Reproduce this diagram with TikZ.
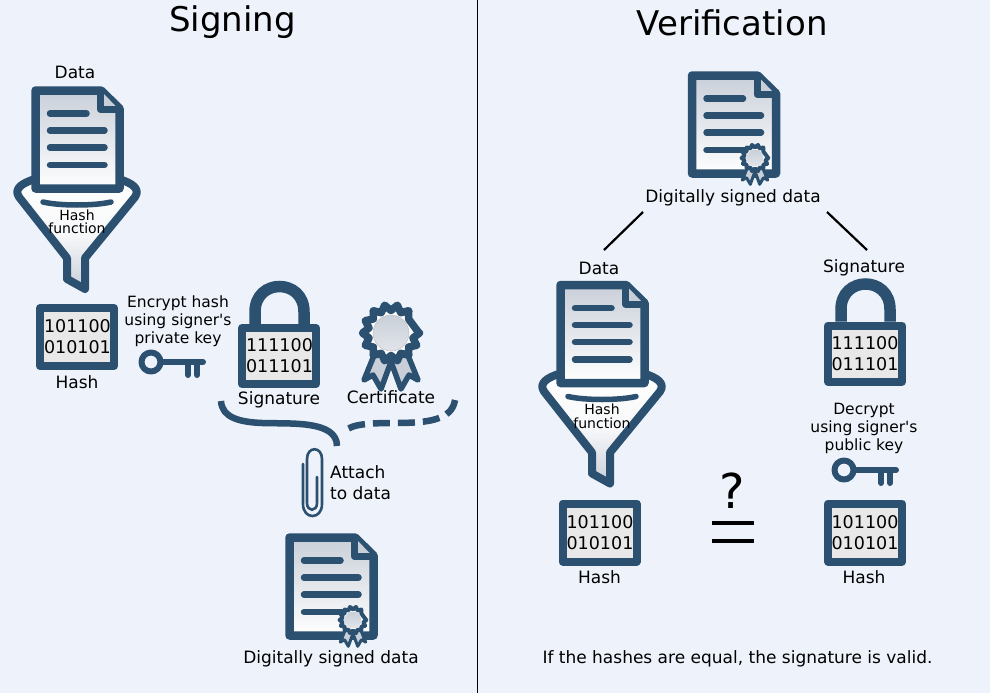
\documentclass[tikz,border=0pt]{standalone}
\usepackage{fontspec}
\setmainfont{DejaVu Sans}
\newfontfamily\plainf{DejaVu Sans}
\definecolor{bg}{HTML}{EEF3FB}
\definecolor{navy}{HTML}{2C5070}
\definecolor{sh}{HTML}{C9CFD9}
\definecolor{boxf}{HTML}{E8E8E8}
\tikzset{
  ink/.style={draw=navy,line width=#1,line join=round,line cap=round},
  ink/.default=7pt,
  lab/.style={font=\fontsize{17}{21}\selectfont,align=center,inner sep=0pt,text=black},
  tight/.style={font=\plainf\fontsize{15.5}{18}\selectfont,align=center,inner sep=0pt,text=black},
  small/.style={font=\fontsize{14}{13.5}\selectfont,align=center,inner sep=0pt,text=black},
  digits/.style={font=\fontsize{17.5}{21}\selectfont,align=center,inner sep=0pt,text=black},
  title/.style={font=\fontsize{34}{36}\selectfont,inner sep=0pt,text=black},
  docicon/.pic={
    \path[ink=8.5pt,top color=sh,bottom color=white] (4,4) -- (69.5,4) -- (88,22) -- (88,102) -- (4,102) -- cycle;
    \path[ink=7pt,fill=sh] (69,4) -- (69,23) -- (87.5,23);
    \draw[ink=6.5pt] (18.5,27) -- (55,27) (18.5,44) -- (73,44) (18.5,61) -- (73,61) (18.5,78.5) -- (73,78.5);
  },
  rosette/.pic={
    \path[ink=5.5pt,fill=sh] (-16,20) -- (-27,47) -- (-18,42) -- (-10,56) -- (1,26) -- cycle;
    \path[ink=5.5pt,fill=sh] (16,20) -- (27,47) -- (18,42) -- (10,56) -- (-1,26) -- cycle;
    \path[ink=7.5pt,fill=white] (0:28)
      \foreach \a in {0,25.714,...,334} { -- (\a:28.5) -- (\a+12.857:22.5) } -- cycle;
    \path[draw=black!25,line width=.5pt,top color=sh,bottom color=sh!55!white] (0,0) circle[radius=18];
  },
  smallrosette/.pic={
    \begin{scope}[scale=.47]
    \path[ink=3pt,fill=sh] (-16,20) -- (-27,47) -- (-18,42) -- (-10,56) -- (1,26) -- cycle;
    \path[ink=3pt,fill=sh] (16,20) -- (27,47) -- (18,42) -- (10,56) -- (-1,26) -- cycle;
    \path[ink=4pt,fill=white] (0:28)
      \foreach \a in {0,25.714,...,334} { -- (\a:28.5) -- (\a+12.857:22.5) } -- cycle;
    \path[top color=sh,bottom color=sh!55!white] (0,0) circle[radius=18];
    \end{scope}
  },
  funnel/.pic={
    \path[ink=8pt,top color=white,bottom color=sh,middle color=white!85!sh] (32,180) .. controls (24,183) and (13,188) .. (19,197) -- (67,258) -- (67,279) -- (85,289) -- (85,258) -- (135,197) .. controls (141,188) and (130,183) .. (122,180) -- cycle;
    \draw[ink=5.5pt] (43,202) .. controls (60,206) and (94,206) .. (111,202);
  },
  hashicon/.pic={
    \path[ink=8pt,fill=boxf] (4,4) rectangle (78,62);
  },
  lockicon/.pic={
    \path[draw=navy,line width=11.5pt] (17,42) -- (17,30) .. controls (17,-4) and (66,-4) .. (66,30) -- (66,42);
    \path[ink=8pt,fill=boxf] (4,46) rectangle (78,102);
  },
  keyicon/.pic={
    \draw[ink=6pt] (0,0) circle[radius=9.5];
    \draw[ink=6pt] (10,0) -- (52,0) (37,0) -- (37,13) (46,0) -- (46,13);
  }
}
\begin{document}
\begin{tikzpicture}[x=1pt,y=-1pt]
\useasboundingbox (0,0) rectangle (990,693);
\fill[bg] (0,0) rectangle (990,693);
\coordinate (divT) at (477.5,0);
\coordinate (divB) at (477.5,693);
\draw[black,line width=1pt] (divT) -- (divB);
\node[title] (ts) at (232.5,22) {Signing};
\node[title] (tv) at (732,23) {Verification};

% Signing: data and funnel
\pic (f1) at (0,0) {funnel};
\pic (d1) at (31.5,86.5) {docicon};
\node[lab] (l1) at (75,72.5) {Data};
\node[small] (hf1) at (77,222) {Hash\\function};
\pic (h1) at (36,304) {hashicon};
\node[digits] (n1) at (77.5,337) {101100\\010101};
\node[lab] (l2) at (77,382.5) {Hash};
\node[tight] (enc) at (178,321.5) {Encrypt hash\\using signer's\\private key};
\pic (k1) at (151,362) {keyicon};

% Signature and certificate
\pic (lk1) at (238,282) {lockicon};
\node[digits] (n2) at (279.5,356) {111100\\011101};
\node[lab] (l3) at (279,399.5) {Signature};
\pic (r1) at (391,333) {rosette};
\node[lab] (l4) at (391,397) {Certificate};
\coordinate (braceL) at (221,401);
\coordinate (braceM) at (337,445);
\coordinate (braceR) at (455,400);
\coordinate (braceD) at (341,432);
\draw[ink=6.5pt,line cap=butt] (braceL) .. controls (222,418) and (240,422) .. (262,423) .. controls (290,424) and (337,420) .. (337,446);
\draw[ink=6.5pt,line cap=butt,dash pattern=on 17pt off 8pt] (braceR) .. controls (452,420) and (428,423) .. (395,423) .. controls (370,423) and (352,424) .. (345,431);
% Clip
\draw[draw=navy,line width=2.6pt,line cap=round] (303,464) -- (303,504) .. controls (303,520) and (322,520) .. (322,504) -- (322,459) .. controls (322,446) and (307,446) .. (307,459) -- (307,503) .. controls (307,512) and (317,512) .. (317,503) -- (317,477);
\node[lab,align=left,anchor=west] (att) at (330,483) {Attach\\to data};
% Signed data
\pic (d2) at (285.5,533.5) {docicon};
\pic (r2) at (353,620) {smallrosette};
\node[lab] (l5) at (331,659) {Digitally signed data};

% Verification
\pic (d3) at (688,71.5) {docicon};
\pic (r3) at (755,158) {smallrosette};
\node[lab] (l6) at (733,198) {Digitally signed data};
\coordinate (c1a) at (643,212);
\coordinate (c1b) at (604,250);
\coordinate (c2a) at (827,212);
\coordinate (c2b) at (867,250);
\draw[black,line width=2.2pt] (c1a) -- (c1b);
\draw[black,line width=2.2pt] (c2a) -- (c2b);
\node[lab] (l7) at (599,268.5) {Data};
\node[lab] (l8) at (864,268) {Signature};
\begin{scope}[shift={(525,194.5)}]
\pic (f2) at (0,0) {funnel};
\pic (d4) at (31.5,86.5) {docicon};
\node[small] (hf2) at (77,222) {Hash\\function};
\end{scope}
\pic (h2) at (558.5,499.5) {hashicon};
\node[digits] (n3) at (600,532.5) {101100\\010101};
\node[lab] (l9) at (599.5,577) {Hash};
\pic (lk2) at (824,279.5) {lockicon};
\node[digits] (n4) at (865,353.5) {111100\\011101};
\node[tight] (dec) at (864,428) {Decrypt\\using signer's\\public key};
\pic (k2) at (844,470) {keyicon};
\pic (h3) at (824,499.5) {hashicon};
\node[digits] (n5) at (865,532.5) {101100\\010101};
\node[lab] (l10) at (864,577) {Hash};
\node[font=\fontsize{48}{48}\selectfont,inner sep=0pt] (q) at (732,491) {?};
\coordinate (e1a) at (712,523);
\coordinate (e1b) at (754,523);
\coordinate (e2a) at (712,541);
\coordinate (e2b) at (754,541);
\draw[black,line width=3.5pt] (e1a) -- (e1b);
\draw[black,line width=3.5pt] (e2a) -- (e2b);
\node[lab] (foot) at (737.5,659) {If the hashes are equal, the signature is valid.};
\end{tikzpicture}
\end{document}
